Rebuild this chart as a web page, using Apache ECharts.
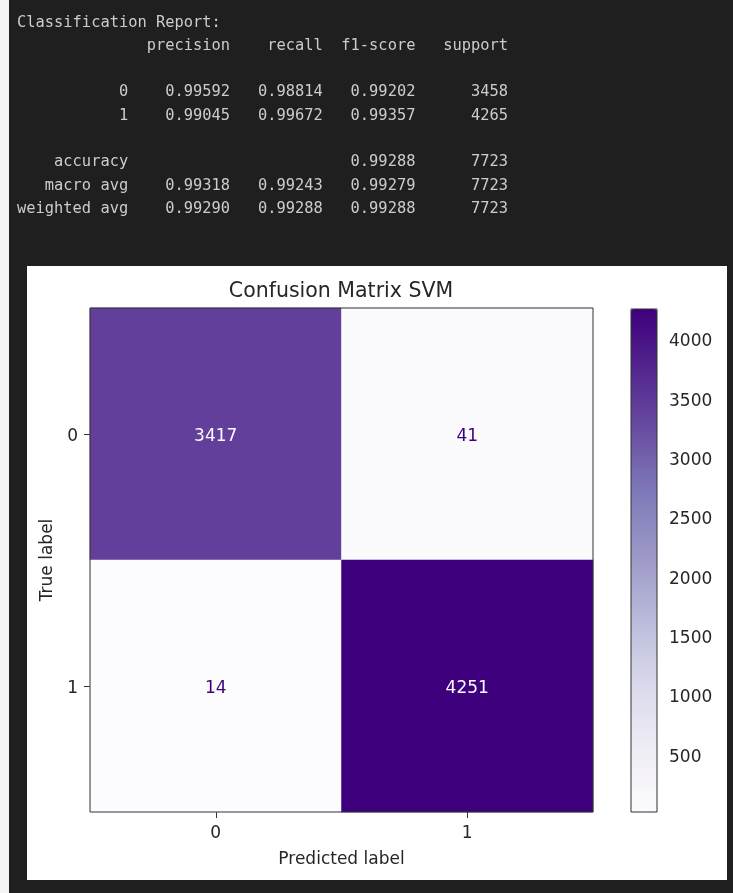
<!DOCTYPE html>
<html>
<head>
<meta charset="utf-8">
<script src="https://cdn.jsdelivr.net/npm/echarts@6/dist/echarts.min.js"></script>
<style>
  html, body { margin: 0; padding: 0; background: #1f1f1f; }
  #chart { width: 733px; height: 893px; }
</style>
</head>
<body>
<div id="chart"></div>
<script>
// ---- classification report values ----
const reportClasses = ['0', '1'];
const precision = [0.99592, 0.99045];
const recall = [0.98814, 0.99672];
const f1Score = [0.99202, 0.99357];
const support = [3458, 4265];
const accuracy = 0.99288;
const totalSupport = 7723;
const macroAvg = [0.99318, 0.99243, 0.99279];
const weightedAvg = [0.99290, 0.99288, 0.99288];

// ---- confusion matrix ----
const predictedLabels = ['0', '1'];
const trueLabels = ['0', '1'];
const confusion = [
  [3417, 41],
  [14, 4251]
];
const colorbarTicks = [500, 1000, 1500, 2000, 2500, 3000, 3500, 4000];

// Purples colormap stops
const purples = ['#fcfbfd', '#efedf5', '#dadaeb', '#bcbddc', '#9e9ac8',
                 '#807dba', '#6a51a3', '#54278f', '#3f007d'];

// ---- build the text report in sklearn's layout ----
const W = 12;
const col = (s) => ' ' + String(s).padStart(9);
const f5 = (v) => v.toFixed(5);
const reportLines = [];
reportLines.push('Classification Report:');
reportLines.push(''.padStart(W) + ' ' + ['precision', 'recall', 'f1-score', 'support'].map(col).join(''));
reportLines.push('');
reportClasses.forEach((c, i) => {
  reportLines.push(c.padStart(W) + ' ' + col(f5(precision[i])) + col(f5(recall[i])) + col(f5(f1Score[i])) + col(support[i]));
});
reportLines.push('');
reportLines.push('accuracy'.padStart(W) + ' ' + col('') + col('') + col(f5(accuracy)) + col(totalSupport));
reportLines.push('macro avg'.padStart(W) + ' ' + macroAvg.map(v => col(f5(v))).join('') + col(totalSupport));
reportLines.push('weighted avg'.padStart(W) + ' ' + weightedAvg.map(v => col(f5(v))).join('') + col(totalSupport));

const reportText = reportLines.map((line, i) => ({
  type: 'text',
  x: 17,
  y: 22.5 + i * 23.3,
  z: 5,
  style: {
    text: line,
    fill: '#cccccc',
    font: '15.4px "DejaVu Sans Mono", monospace',
    verticalAlign: 'middle',
    textAlign: 'left'
  }
}));

// ---- heatmap data ----
let vmin = Infinity, vmax = -Infinity;
confusion.forEach(r => r.forEach(v => { vmin = Math.min(vmin, v); vmax = Math.max(vmax, v); }));
const thresh = (vmin + vmax) / 2;
const heatData = [];
confusion.forEach((row, ti) => {
  row.forEach((v, pi) => {
    heatData.push({
      value: [pi, ti, v],
      label: { color: v < thresh ? purples[purples.length - 1] : purples[0] }
    });
  });
});

const FONT = '"DejaVu Sans", sans-serif';
const TXT = '#262626';
// tick text nudged slightly below the tick, as matplotlib centres on the glyph box
const tickRich = { t: { padding: [6, 0, 0, 0], fontFamily: FONT, fontSize: 17, color: TXT } };
const tickFmt = v => '{t|' + v + '}';

const chart = echarts.init(document.getElementById('chart'));
chart.setOption({
  backgroundColor: '#1f1f1f',
  animation: false,
  textStyle: { fontFamily: FONT },
  title: {
    text: 'Confusion Matrix SVM',
    left: 341,
    top: 281,
    textAlign: 'center',
    padding: 0,
    textStyle: { fontFamily: FONT, fontSize: 20.5, fontWeight: 'normal', color: TXT }
  },
  graphic: {
    elements: [
      { type: 'rect', shape: { x: 0, y: 0, width: 9, height: 893 }, style: { fill: '#f4f4f4' }, z: -10 },
      { type: 'rect', shape: { x: 27, y: 266, width: 700, height: 614 }, style: { fill: '#ffffff' }, z: -10 }
    ].concat(reportText)
  },
  grid: [
    { left: 90, top: 308, width: 503, height: 504, show: true, borderColor: '#333', borderWidth: 1,
      backgroundColor: 'transparent', z: 10 },
    { left: 631, top: 309, width: 26, height: 503, show: true, borderColor: '#333', borderWidth: 1,
      backgroundColor: 'transparent', z: 10 }
  ],
  xAxis: [
    {
      gridIndex: 0, type: 'category', data: predictedLabels,
      name: 'Predicted label', nameLocation: 'middle', nameGap: 39,
      nameTextStyle: { fontFamily: FONT, fontSize: 17, color: TXT },
      axisLine: { show: false },
      axisTick: { show: true, alignWithLabel: true, length: 6, lineStyle: { color: '#333' } },
      axisLabel: { margin: 13, fontFamily: FONT, fontSize: 17, color: TXT },
      splitLine: { show: false }
    },
    { gridIndex: 1, type: 'value', show: false, min: 0, max: 1 }
  ],
  yAxis: [
    {
      gridIndex: 0, type: 'category', data: trueLabels, inverse: true,
      name: 'True label', nameLocation: 'middle', nameGap: 34, nameRotate: 90,
      nameTextStyle: { fontFamily: FONT, fontSize: 17, color: TXT },
      axisLine: { show: false },
      axisTick: { show: true, alignWithLabel: true, length: 6, lineStyle: { color: '#333' } },
      axisLabel: { margin: 12, formatter: tickFmt, rich: tickRich },
      splitLine: { show: false }
    },
    {
      gridIndex: 1, type: 'value', position: 'right', min: vmin, max: vmax,
      axisLine: { show: false },
      axisTick: { show: true, length: 6, lineStyle: { color: '#333' }, customValues: colorbarTicks },
      axisLabel: { margin: 12, customValues: colorbarTicks, formatter: tickFmt, rich: tickRich },
      splitLine: { show: false }
    }
  ],
  visualMap: {
    type: 'continuous',
    seriesIndex: 0,
    min: vmin,
    max: vmax,
    calculable: false,
    hoverLink: false,
    orient: 'vertical',
    left: 631,
    top: 309,
    itemWidth: 26,
    itemHeight: 503,
    padding: 0,
    text: null,
    inRange: { color: purples }
  },
  series: [
    {
      type: 'heatmap',
      xAxisIndex: 0,
      yAxisIndex: 0,
      data: heatData,
      itemStyle: { borderWidth: 0 },
      label: { show: true, fontFamily: FONT, fontSize: 17, offset: [0, 3], formatter: p => String(p.value[2]) },
      emphasis: { disabled: true }
    }
  ]
});
</script>
</body>
</html>
